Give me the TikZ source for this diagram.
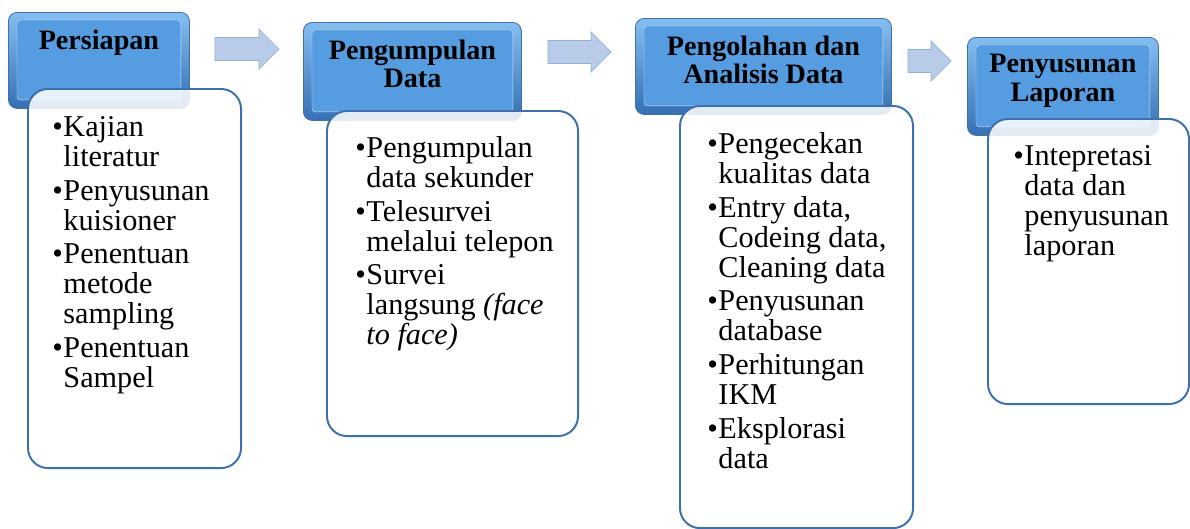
\documentclass[tikz,border=0pt]{standalone}
\usepackage{fontspec}
\setmainfont{Liberation Serif}
\usetikzlibrary{positioning}

\definecolor{hdrlight}{RGB}{132,190,240}
\definecolor{hdrmid}{RGB}{86,156,224}
\definecolor{hdrdark}{RGB}{52,112,180}
\definecolor{hdrline}{RGB}{66,112,166}
\definecolor{bodyline}{RGB}{62,112,172}
\definecolor{arrfill}{RGB}{184,204,234}
\definecolor{arrline}{RGB}{148,174,214}

\tikzset{
  headbox/.style={rectangle,rounded corners=0.22cm,draw=hdrline,line width=0.6pt,
    top color=hdrlight,bottom color=hdrdark,inner sep=0pt,anchor=north west},
  headface/.style={fill=hdrmid,draw=hdrlight!40!white,line width=0.3pt,rounded corners=0.08cm},
  headtxt/.style={font=\fontsize{20}{20.5}\selectfont\bfseries,align=center,inner sep=0pt,anchor=north},
  bodybox/.style={rectangle,rounded corners=0.5cm,draw=bodyline,line width=1.4pt,
    fill=white,fill opacity=0.86,inner sep=0pt,anchor=north west},
  bodytxt/.style={font=\fontsize{21.5}{21.3}\selectfont,align=left,inner sep=0pt,anchor=north west},
  blockarr/.style={fill=arrfill,draw=arrline,line width=0.5pt}
}
\newcommand{\bul}{\makebox[0.28cm][l]{\textbullet}}
\newcommand{\ind}{\hspace*{0.28cm}}

\begin{document}
\begin{tikzpicture}[x=0.025cm,y=-0.025cm]
\useasboundingbox (0,0) rectangle (1190,528);

%arrows between the steps
\foreach \xa/\ya/\len in {215/49/64,548/52/63,908/61/43}{
\draw[blockarr] (\xa,{\ya-11.5}) -- ({\xa+\len-20},{\ya-11.5}) -- ({\xa+\len-20},{\ya-20})
  -- ({\xa+\len},\ya) -- ({\xa+\len-20},{\ya+20}) -- ({\xa+\len-20},{\ya+11.5})
  -- (\xa,{\ya+11.5}) -- cycle;
}

%headers
\node[headbox,minimum width=4.525cm,minimum height=2.4cm] (h1) at (8,12) {};
\node[headbox,minimum width=5.45cm,minimum height=2.45cm] (h2) at (303,22) {};
\node[headbox,minimum width=6.4cm,minimum height=2.4cm] (h3) at (635,18) {};
\node[headbox,minimum width=4.775cm,minimum height=2.45cm] (h4) at (967,37) {};
\foreach \h in {h1,h2,h3,h4}{
\draw[headface] ([shift={(9,8)}]\h.north west) rectangle ([shift={(-9,-9)}]\h.south east);
}

%bodies
\node[bodybox,minimum width=5.325cm,minimum height=9.475cm] (b1) at (27,88) {};
\node[bodybox,minimum width=6.275cm,minimum height=8.125cm] (b2) at (326,110) {};
\node[bodybox,minimum width=5.825cm,minimum height=10.55cm] (b3) at (679,105) {};
\node[bodybox,minimum width=5.025cm,minimum height=7.125cm] (b4) at (987,118) {};

%titles
\node[headtxt] (t1) at ([yshift=-0.45cm]h1.north) {Persiapan};
\node[headtxt] (t2) at ([yshift=-0.43cm]h2.north) {Pengumpulan\\Data};
\node[headtxt] (t3) at ([yshift=-0.43cm]h3.north) {Pengolahan dan\\Analisis Data};
\node[headtxt] (t4) at ([yshift=-0.43cm]h4.north) {Penyusunan\\Laporan};

%lists
\node[bodytxt] (l1) at (52,116) {\bul Kajian\\ \ind literatur\\[2.8pt]
  \bul Penyusunan\\ \ind kuisioner\\[2.8pt]
  \bul Penentuan\\ \ind metode\\ \ind sampling\\[2.8pt]
  \bul Penentuan\\ \ind Sampel};
\node[bodytxt] (l2) at (355,136) {\bul Pengumpulan\\ \ind data sekunder\\[2.8pt]
  \bul Telesurvei\\ \ind melalui telepon\\[2.8pt]
  \bul Survei\\ \ind langsung \textit{(face}\\ \ind \textit{to face)}};
\node[bodytxt] (l3) at (707,132) {\bul Pengecekan\\ \ind kualitas data\\[2.8pt]
  \bul Entry data,\\ \ind Codeing data,\\ \ind Cleaning data\\[2.8pt]
  \bul Penyusunan\\ \ind database\\[2.8pt]
  \bul Perhitungan\\ \ind IKM\\[2.8pt]
  \bul Eksplorasi\\ \ind data};
\node[bodytxt] (l4) at (1013,145) {\bul Intepretasi\\ \ind data dan\\ \ind penyusunan\\ \ind laporan};
\end{tikzpicture}
\end{document}
